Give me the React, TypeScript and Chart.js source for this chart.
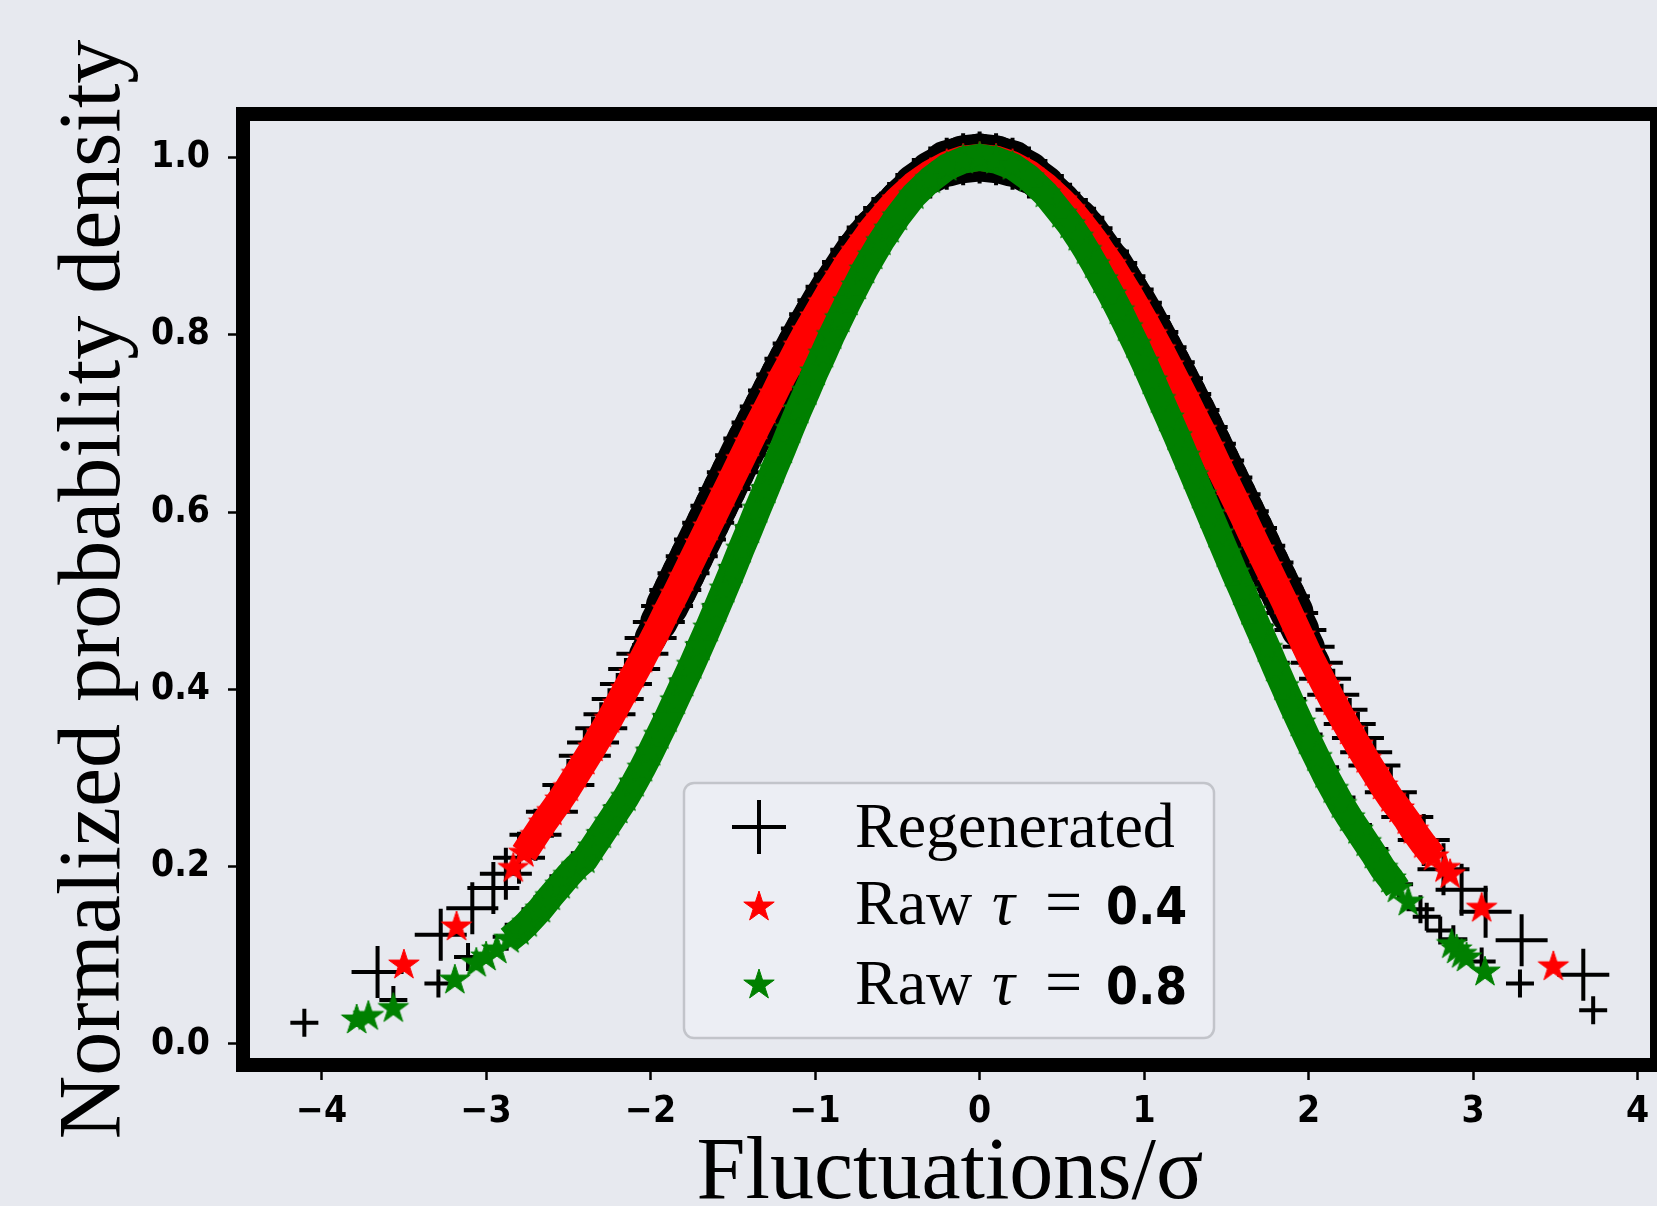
import React, { useEffect, useRef } from 'react';
import { Chart, registerables } from 'chart.js';

Chart.register(...registerables);

const W = 1657;
const H = 1206;

const xTickValues = [-4, -3, -2, -1, 0, 1, 2, 3, 4];
const yTickValues = [0, 0.2, 0.4, 0.6, 0.8, 1.0];
const xTitle = 'Fluctuations/σ';
const yTitle = 'Normalized probability density';
const legendNames = ['Regenerated', 'Raw', 'Raw'];
const legendTaus = ['', '0.4', '0.8'];

// shared dense x grid of the central part of the curves
const coreX = [
  -2.4, -2.35, -2.3, -2.25, -2.2, -2.15, -2.1, -2.05, -2, -1.95, -1.9, -1.85, -1.8, -1.75, -1.7, -1.65, -1.6, -1.55, -1.5,
  -1.45, -1.4, -1.35, -1.3, -1.25, -1.2, -1.15, -1.1, -1.05, -1, -0.95, -0.9, -0.85, -0.8, -0.75, -0.7, -0.65, -0.6, -0.55, -0.5,
  -0.4, -0.3, -0.2, -0.1, 0, 0.1, 0.2, 0.3, 0.4,
  0.5, 0.55, 0.6, 0.65, 0.7, 0.75, 0.8, 0.85, 0.9, 0.95, 1, 1.05, 1.1, 1.15, 1.2, 1.25, 1.3, 1.35, 1.4, 1.45,
  1.5, 1.55, 1.6, 1.65, 1.7, 1.75, 1.8, 1.85, 1.9, 1.95, 2, 2.05, 2.1, 2.15, 2.2, 2.25, 2.3, 2.35, 2.4,
];

// Raw tau = 0.8 (green stars)
const greenCoreY = [
  0.208, 0.222, 0.236, 0.25, 0.264, 0.278, 0.294, 0.311, 0.329, 0.348, 0.367, 0.387, 0.407, 0.427, 0.448, 0.469, 0.491, 0.513, 0.535,
  0.558, 0.58, 0.603, 0.625, 0.648, 0.67, 0.693, 0.715, 0.736, 0.758, 0.778, 0.799, 0.818, 0.837, 0.855, 0.873, 0.889, 0.905, 0.919, 0.933,
  0.957, 0.975, 0.989, 0.997, 1.0, 0.997, 0.99, 0.977, 0.959,
  0.936, 0.924, 0.91, 0.895, 0.879, 0.862, 0.845, 0.827, 0.808, 0.789, 0.769, 0.748, 0.727, 0.706, 0.685, 0.663, 0.641, 0.619, 0.597, 0.575,
  0.553, 0.531, 0.51, 0.488, 0.467, 0.446, 0.424, 0.403, 0.382, 0.362, 0.342, 0.323, 0.304, 0.287, 0.27, 0.255, 0.241, 0.227, 0.213,
];
const greenLeftX = [-3.787, -3.716, -3.564, -3.19, -3.06, -3.0, -2.935, -2.86, -2.8, -2.75, -2.67, -2.61, -2.55, -2.5, -2.45];
const greenLeftY = [0.027, 0.031, 0.04, 0.072, 0.091, 0.098, 0.106, 0.118, 0.127, 0.136, 0.152, 0.166, 0.179, 0.19, 0.2];
const greenRightX = [2.45, 2.5, 2.54, 2.606, 2.87, 2.9, 2.93, 2.96, 3.072];
const greenRightY = [0.198, 0.186, 0.175, 0.16, 0.112, 0.106, 0.101, 0.097, 0.081];

// Raw tau = 0.4 (red stars)
const redCoreY = [
  0.319, 0.334, 0.35, 0.366, 0.383, 0.4, 0.417, 0.434, 0.452, 0.47, 0.489, 0.507, 0.526, 0.545, 0.564, 0.583, 0.602, 0.621, 0.64,
  0.659, 0.678, 0.697, 0.715, 0.733, 0.752, 0.769, 0.787, 0.804, 0.82, 0.836, 0.852, 0.866, 0.881, 0.894, 0.907, 0.92, 0.931, 0.942, 0.952,
  0.969, 0.982, 0.992, 0.998, 1.0, 0.998, 0.992, 0.982, 0.968,
  0.951, 0.941, 0.93, 0.918, 0.906, 0.892, 0.879, 0.864, 0.849, 0.833, 0.817, 0.8, 0.783, 0.765, 0.747, 0.729, 0.71, 0.692, 0.673, 0.653,
  0.634, 0.615, 0.596, 0.576, 0.557, 0.538, 0.519, 0.5, 0.48, 0.46, 0.44, 0.422, 0.404, 0.386, 0.369, 0.353, 0.337, 0.321, 0.306,
];
const redLeftX = [-3.5, -3.18, -2.835, -2.77, -2.7, -2.65, -2.6, -2.55, -2.5, -2.45];
const redLeftY = [0.089, 0.132, 0.198, 0.215, 0.235, 0.249, 0.262, 0.275, 0.289, 0.304];
const redRightX = [2.45, 2.5, 2.55, 2.6, 2.637, 2.7, 2.76, 2.829, 2.86, 3.052, 3.488];
const redRightY = [0.291, 0.277, 0.265, 0.252, 0.241, 0.225, 0.211, 0.198, 0.191, 0.153, 0.087];

// Regenerated (black +), large-marker track
const regenACoreY = [
  0.325, 0.34, 0.356, 0.372, 0.389, 0.406, 0.423, 0.44, 0.458, 0.476, 0.494, 0.512, 0.531, 0.55, 0.569, 0.588, 0.607, 0.626, 0.645,
  0.664, 0.683, 0.701, 0.719, 0.737, 0.755, 0.773, 0.79, 0.807, 0.823, 0.839, 0.854, 0.868, 0.882, 0.896, 0.909, 0.921, 0.932, 0.943, 0.953,
  0.97, 0.983, 0.993, 0.998, 1.0, 0.998, 0.993, 0.983, 0.969,
  0.952, 0.942, 0.932, 0.92, 0.907, 0.894, 0.881, 0.866, 0.851, 0.836, 0.82, 0.803, 0.786, 0.769, 0.751, 0.733, 0.715, 0.696, 0.677, 0.658,
  0.639, 0.62, 0.601, 0.582, 0.562, 0.543, 0.524, 0.505, 0.486, 0.467, 0.448, 0.43, 0.412, 0.394, 0.377, 0.361, 0.345, 0.329, 0.314,
];
const regenALeftX = [-3.66, -3.276, -3.084, -2.956, -2.88, -2.8, -2.7, -2.6, -2.5];
const regenALeftY = [0.081, 0.123, 0.153, 0.176, 0.192, 0.21, 0.236, 0.262, 0.292];
const regenARightX = [2.5, 2.6, 2.7, 2.82, 2.93, 3.076, 3.295, 3.67];
const regenARightY = [0.284, 0.256, 0.23, 0.197, 0.174, 0.149, 0.117, 0.078];

// Regenerated (black +), small-marker track
const regenBX = [
  -4.105, -3.564, -3.29, -3.11, -2.875, -2.7, -2.53, -2.4, -2.3, -2.2, -2.1, -2.0, -1.9, -1.8, -1.7, -1.6, -1.5, -1.4, -1.3, -1.2,
  -1.1, -1.0, -0.9, -0.8, -0.7, -0.6, -0.5, -0.4, -0.3, -0.2, -0.1, 0, 0.1, 0.2, 0.3, 0.4, 0.5, 0.6, 0.7, 0.8, 0.9, 1.0, 1.1, 1.2,
  1.3, 1.4, 1.5, 1.6, 1.7, 1.8, 1.9, 2.0, 2.1, 2.2, 2.3, 2.4, 2.55, 2.68, 2.718, 2.8, 2.88, 3.052, 3.285, 3.73,
];
const regenBY = [
  0.024, 0.0495, 0.068, 0.098, 0.121, 0.152, 0.189, 0.215, 0.24, 0.268, 0.298, 0.333, 0.371, 0.411, 0.452, 0.495, 0.539, 0.584, 0.629, 0.674,
  0.718, 0.761, 0.801, 0.84, 0.875, 0.907, 0.935, 0.958, 0.976, 0.99, 0.997, 1.0, 0.997, 0.99, 0.978, 0.96, 0.938, 0.912, 0.881, 0.848, 0.811, 0.772, 0.731, 0.689,
  0.646, 0.602, 0.558, 0.515, 0.472, 0.43, 0.389, 0.349, 0.312, 0.278, 0.247, 0.22, 0.18, 0.152, 0.1435, 0.128, 0.118, 0.093, 0.068, 0.038,
];

const pts = (xs: number[], ys: number[]) => xs.map((x, i) => ({ x, y: ys[i] }));

function makeStar(color: string, R: number): HTMLCanvasElement {
  const size = Math.ceil(2 * R + 4);
  const c = document.createElement('canvas');
  c.width = size;
  c.height = size;
  const g = c.getContext('2d')!;
  const cx = size / 2;
  const cy = size / 2;
  const r = R * 0.381966;
  g.beginPath();
  for (let i = 0; i < 10; i++) {
    const ang = -Math.PI / 2 + (i * Math.PI) / 5;
    const rad = i % 2 === 0 ? R : r;
    const px = cx + rad * Math.cos(ang);
    const py = cy + rad * Math.sin(ang);
    if (i === 0) g.moveTo(px, py);
    else g.lineTo(px, py);
  }
  g.closePath();
  g.fillStyle = color;
  g.fill();
  g.lineWidth = 1;
  g.strokeStyle = color;
  g.stroke();
  return c;
}

const SERIF = "'Liberation Serif', 'Times New Roman', serif";
const SANS_B = "'DejaVu Sans Condensed', 'DejaVu Sans', sans-serif";
const CLEAR = 'rgba(0,0,0,0)';

export default function App() {
  const ref = useRef<HTMLCanvasElement | null>(null);

  useEffect(() => {
    if (!ref.current) return;
    const redStar = makeStar('#ff0000', 16);
    const greenStar = makeStar('#008000', 16);

    const framePlugin = {
      id: 'frame',
      afterDatasetsDraw(chart: any) {
        const { ctx, chartArea } = chart;
        ctx.save();
        ctx.lineWidth = 14;
        ctx.strokeStyle = '#000';
        ctx.strokeRect(chartArea.left, chartArea.top, chartArea.right - chartArea.left, chartArea.bottom - chartArea.top);
        ctx.restore();
      },
    };

    const legendPlugin = {
      id: 'customLegend',
      afterDraw(chart: any) {
        const ctx: CanvasRenderingContext2D = chart.ctx;
        ctx.save();
        ctx.beginPath();
        (ctx as any).roundRect(684, 783, 530, 255, 10);
        ctx.fillStyle = 'rgba(240,241,246,0.6)';
        ctx.fill();
        ctx.lineWidth = 2.5;
        ctx.strokeStyle = '#c2c4ca';
        ctx.stroke();

        const mx = 759;
        const rows = [827, 907, 985];
        ctx.strokeStyle = '#000';
        ctx.lineWidth = 4;
        ctx.beginPath();
        ctx.moveTo(mx - 27, rows[0]);
        ctx.lineTo(mx + 27, rows[0]);
        ctx.moveTo(mx, rows[0] - 27);
        ctx.lineTo(mx, rows[0] + 27);
        ctx.stroke();
        ctx.drawImage(redStar, mx - redStar.width / 2, rows[1] - redStar.height / 2);
        ctx.drawImage(greenStar, mx - greenStar.width / 2, rows[2] - greenStar.height / 2);

        const baselines = [847, 924, 1004];
        ctx.fillStyle = '#000';
        ctx.textBaseline = 'alphabetic';
        ctx.textAlign = 'left';
        for (let i = 0; i < 3; i++) {
          ctx.font = `64px ${SERIF}`;
          ctx.fillText(legendNames[i], 855, baselines[i]);
          if (legendTaus[i]) {
            ctx.font = `italic 64px ${SERIF}`;
            ctx.fillText('τ', 992, baselines[i]);
            ctx.font = `66px ${SERIF}`;
            ctx.fillText('=', 1045, baselines[i]);
            ctx.font = `bold 51px ${SANS_B}`;
            ctx.fillText(legendTaus[i], 1106, baselines[i]);
          }
        }
        ctx.restore();
      },
    };

    const greenData = [...pts(greenLeftX, greenLeftY), ...pts(coreX, greenCoreY), ...pts(greenRightX, greenRightY)];
    const redData = [...pts(redLeftX, redLeftY), ...pts(coreX, redCoreY), ...pts(redRightX, redRightY)];
    const regenAData = pts([...regenALeftX, ...coreX, ...regenARightX], [...regenALeftY, ...regenACoreY, ...regenARightY]);
    const regenBData = pts(regenBX, regenBY);

    // where the markers are dense enough to merge into a continuous band
    const bandColor = (data: { x: number }[], lo: number, hi: number, color: string) => (c: any) => {
      const a = data[c.p0DataIndex].x;
      const b = data[c.p1DataIndex].x;
      return a < lo || b > hi ? CLEAR : color;
    };
    // union of dense '+' markers along the curve, fading out where the data get sparse
    const plusBandWidth = (data: { x: number }[], arm: number, cut: number) => (c: any) => {
      const dx = c.p1.x - c.p0.x;
      const dy = c.p1.y - c.p0.y;
      const L = Math.hypot(dx, dy) || 1;
      const m = Math.max(Math.abs(data[c.p0DataIndex].x), Math.abs(data[c.p1DataIndex].x));
      const f = Math.min(1, Math.max(0, (cut - m) / 0.4));
      return (2 * arm * f * Math.max(Math.abs(dx), Math.abs(dy))) / L;
    };
    const regenWidth = plusBandWidth(regenAData, 24, 2.3);

    const tickFont = { family: SANS_B, size: 37, weight: 'bold' as const };

    const chart = new Chart(ref.current, {
      type: 'scatter',
      data: {
        datasets: [
          {
            label: 'Raw τ = 0.8',
            data: greenData,
            showLine: true,
            borderWidth: 27,
            borderColor: '#008000',
            borderCapStyle: 'butt',
            borderJoinStyle: 'round',
            segment: { borderColor: bandColor(greenData, -2.87, 2.55, '#008000') },
            pointStyle: greenStar as any,
            pointRadius: 16,
            pointBackgroundColor: '#008000',
            pointBorderWidth: 0,
            order: 0,
          },
          {
            label: 'Raw τ = 0.4',
            data: redData,
            showLine: true,
            borderWidth: 27,
            borderColor: '#ff0000',
            borderCapStyle: 'butt',
            borderJoinStyle: 'round',
            segment: { borderColor: bandColor(redData, -2.78, 2.8, '#ff0000') },
            pointStyle: redStar as any,
            pointRadius: 16,
            pointBackgroundColor: '#ff0000',
            pointBorderWidth: 0,
            order: 1,
          },
          {
            label: 'Regenerated',
            data: regenAData,
            showLine: true,
            borderWidth: 40,
            borderColor: '#000',
            borderCapStyle: 'round',
            borderJoinStyle: 'round',
            segment: {
              borderWidth: (c: any) => Math.max(1, regenWidth(c)),
              borderColor: (c: any) => (regenWidth(c) < 1 ? CLEAR : '#000'),
            },
            pointStyle: 'cross',
            pointRadius: 26,
            pointBorderWidth: 4,
            pointBorderColor: '#000',
            order: 2,
          },
          {
            label: 'Regenerated',
            data: regenBData,
            showLine: false,
            pointStyle: 'cross',
            pointRadius: 14,
            pointBorderWidth: 4,
            pointBorderColor: '#000',
            borderColor: '#000',
            order: 3,
          },
        ],
      },
      options: {
        animation: false,
        responsive: false,
        devicePixelRatio: 1,
        events: [],
        layout: { autoPadding: false, padding: { left: 0, right: 0, top: 114, bottom: 0 } },
        plugins: { legend: { display: false }, tooltip: { enabled: false } },
        scales: {
          x: {
            type: 'linear',
            min: -4.478,
            max: 4.118,
            afterBuildTicks: (s: any) => {
              s.ticks = xTickValues.map((v) => ({ value: v }));
            },
            afterFit: (s: any) => {
              s.height = 141;
              s.paddingLeft = 0;
              s.paddingRight = 0;
            },
            grid: { display: true, drawOnChartArea: false, drawTicks: true, tickLength: 15, tickWidth: 2.5, tickColor: '#000' },
            border: { display: false },
            ticks: {
              padding: 10,
              color: '#000',
              font: tickFont,
              maxRotation: 0,
              autoSkip: false,
              callback: (v: any) => (Number(v) < 0 ? '\u2212' + Math.abs(Number(v)) : String(v)),
            },
            title: {
              display: true,
              text: xTitle,
              color: '#000',
              font: { family: SERIF, size: 88, lineHeight: 0.7 },
              padding: { top: 0, bottom: 0 },
            },
          },
          y: {
            type: 'linear',
            min: -0.0238,
            max: 1.049,
            afterBuildTicks: (s: any) => {
              s.ticks = yTickValues.map((v) => ({ value: v }));
            },
            afterFit: (s: any) => {
              s.width = 243;
              s.paddingTop = 0;
              s.paddingBottom = 0;
            },
            grid: { display: true, drawOnChartArea: false, drawTicks: true, tickLength: 15, tickWidth: 2.5, tickColor: '#000' },
            border: { display: false },
            ticks: {
              padding: 18,
              color: '#000',
              font: tickFont,
              callback: (v: any) => Number(v).toFixed(1),
            },
            title: {
              display: true,
              text: yTitle,
              color: '#000',
              font: { family: SERIF, size: 88, lineHeight: 1 },
              padding: { top: 52, bottom: 0 },
            },
          },
        },
      },
      plugins: [framePlugin, legendPlugin],
    } as any);

    return () => chart.destroy();
  }, []);

  return (
    <div style={{ position: 'fixed', left: 0, top: 0, width: W, height: H, background: '#e7e9ef', overflow: 'hidden' }}>
      <canvas ref={ref} width={W} height={H} style={{ display: 'block', width: W, height: H }} />
    </div>
  );
}
